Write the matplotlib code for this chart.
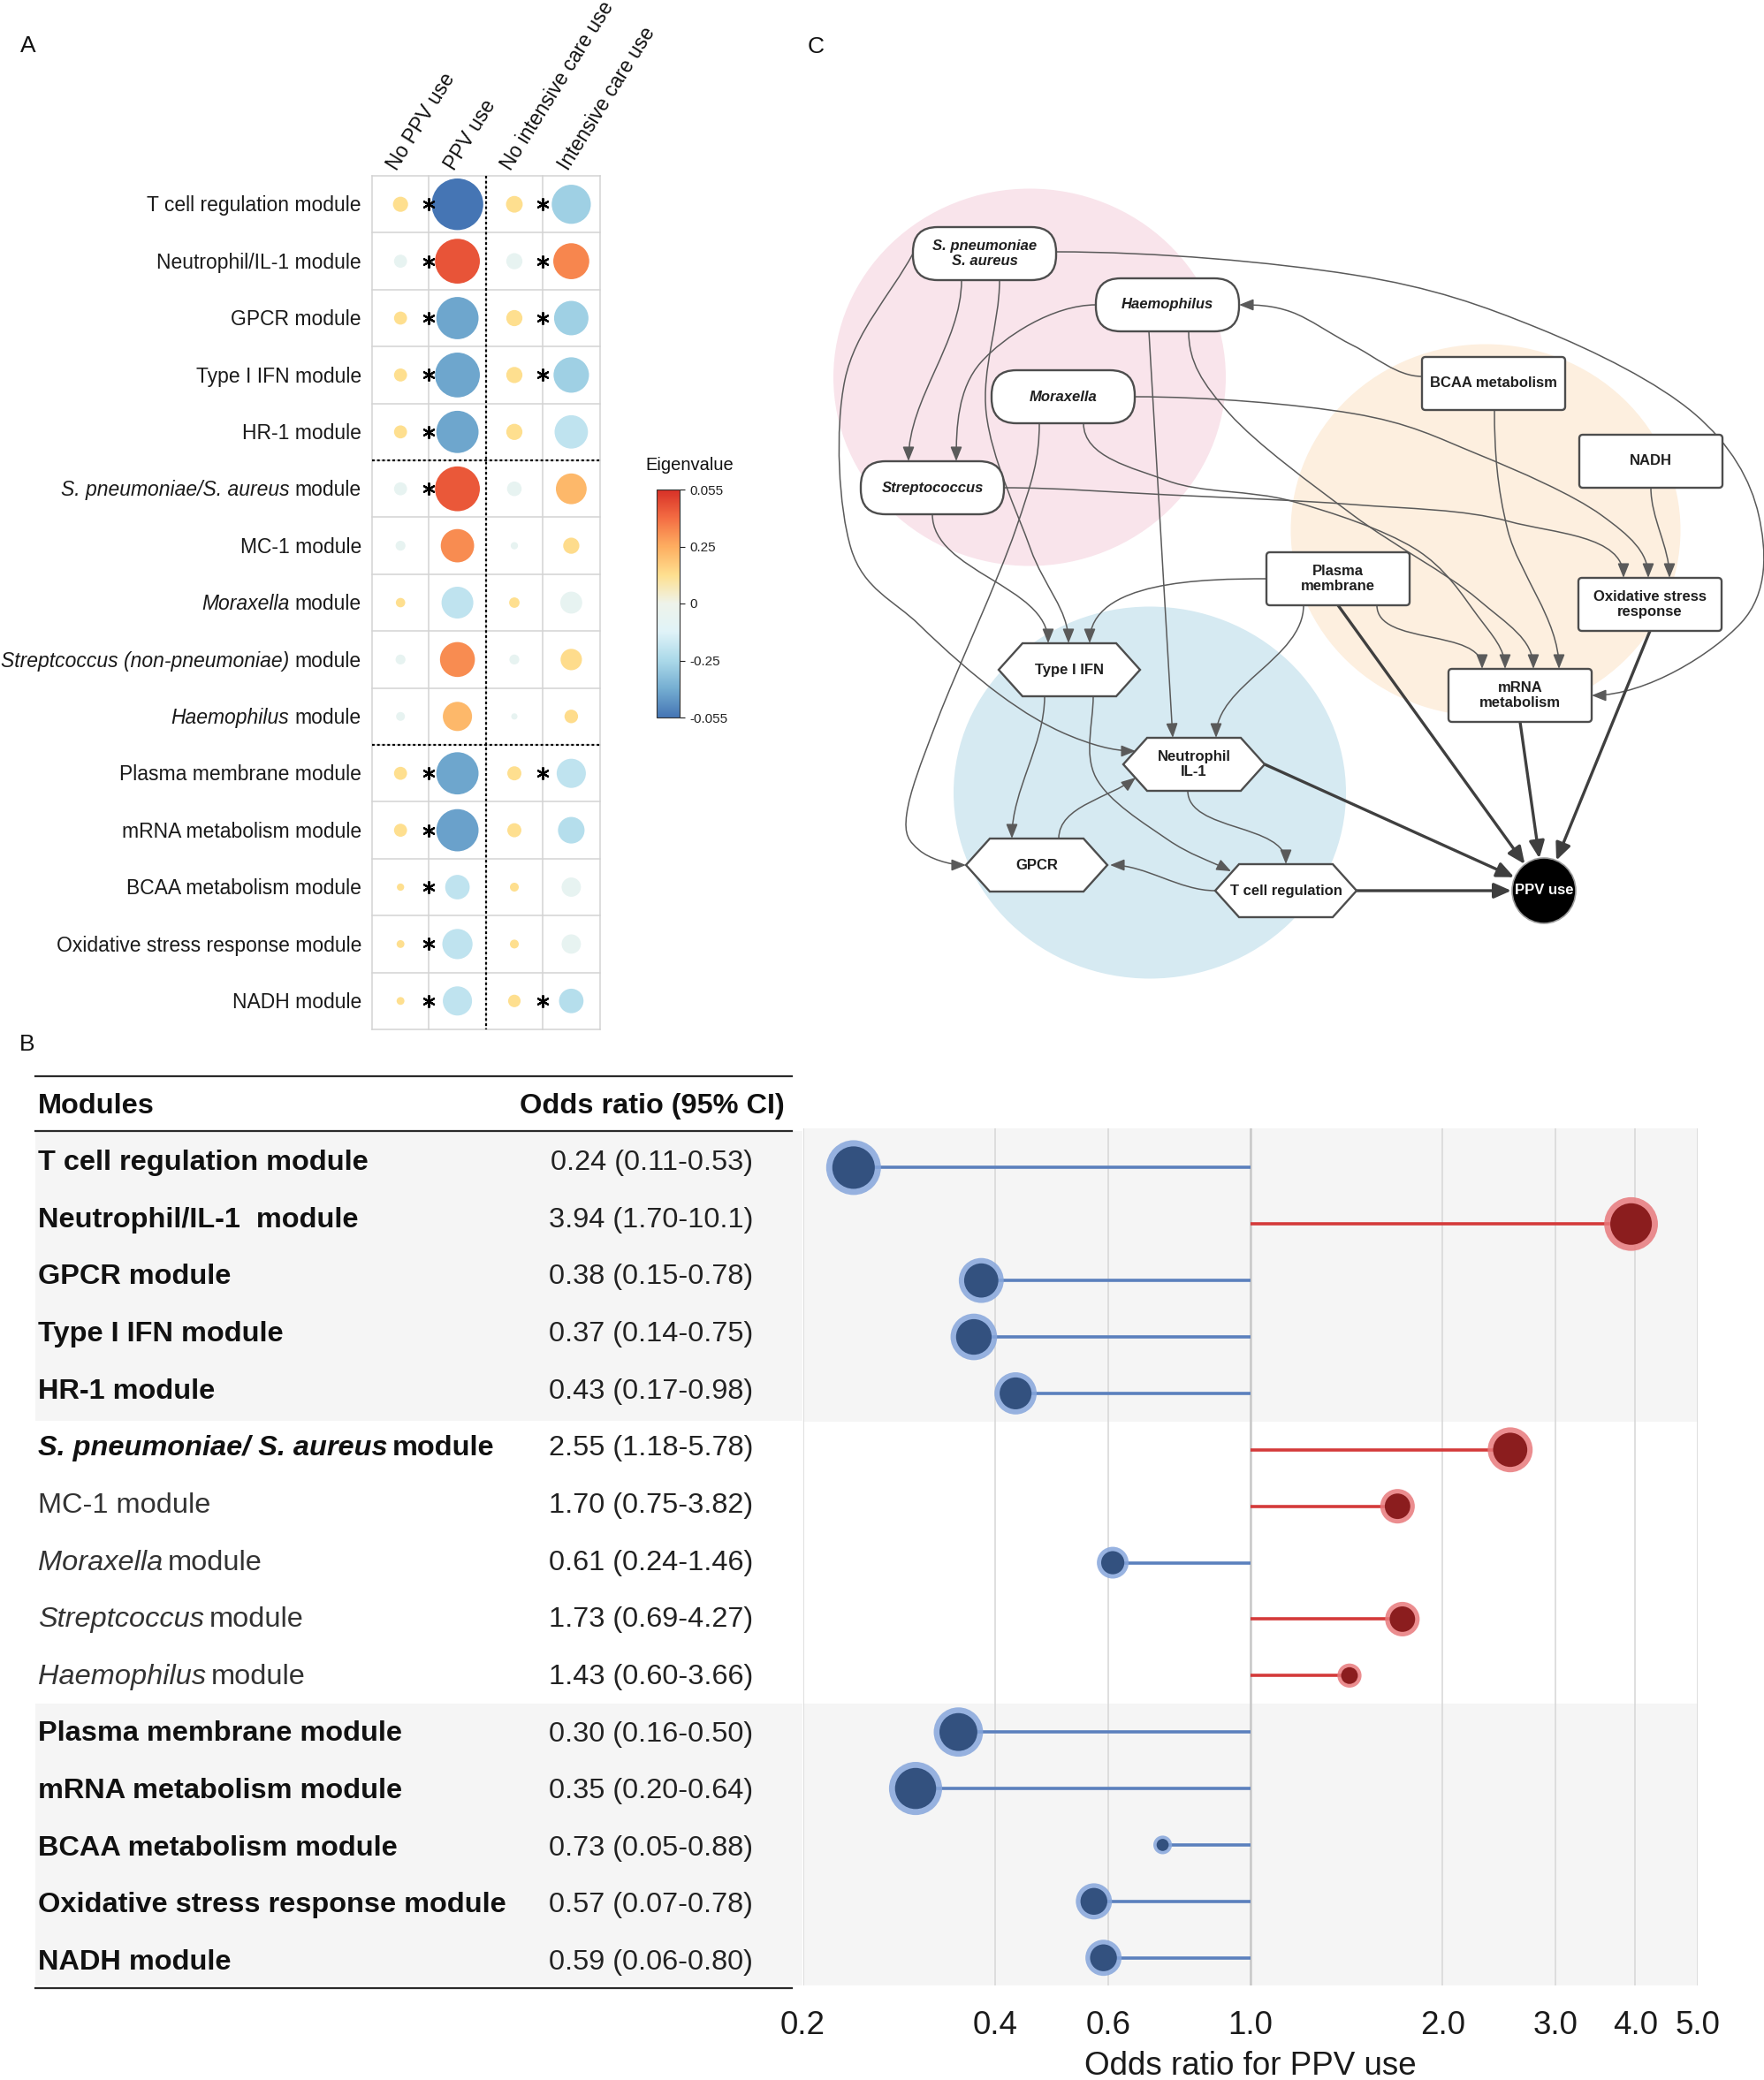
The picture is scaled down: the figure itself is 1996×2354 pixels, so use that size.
import numpy as np
import matplotlib
matplotlib.use("Agg")
import matplotlib.pyplot as plt
from matplotlib.colors import LinearSegmentedColormap
from matplotlib.patches import Ellipse, FancyBboxPatch, Polygon, FancyArrowPatch, Rectangle
from matplotlib.path import Path

plt.rcParams['font.family'] = ['Liberation Sans', 'DejaVu Sans']

W, H = 1996, 2354

# ---------------- panel A : module eigenvalues per group ----------------
groups = ['No PPV use', 'PPV use', 'No intensive care use', 'Intensive care use']
a_modules = [
    ('', 'T cell regulation module'),
    ('', 'Neutrophil/IL-1 module'),
    ('', 'GPCR module'),
    ('', 'Type I IFN module'),
    ('', 'HR-1 module'),
    ('S. pneumoniae/S. aureus', 'module'),
    ('', 'MC-1 module'),
    ('Moraxella', 'module'),
    ('Streptcoccus (non-pneumoniae)', 'module'),
    ('Haemophilus', 'module'),
    ('', 'Plasma membrane module'),
    ('', 'mRNA metabolism module'),
    ('', 'BCAA metabolism module'),
    ('', 'Oxidative stress response module'),
    ('', 'NADH module'),
]
# colour of each circle, on the -1..1 colour bar
eig_value = [
    [0.25, -1.00, 0.25, -0.55],
    [-0.12, 0.85, -0.12, 0.65],
    [0.25, -0.78, 0.25, -0.55],
    [0.25, -0.78, 0.25, -0.55],
    [0.25, -0.78, 0.25, -0.40],
    [-0.12, 0.83, -0.12, 0.45],
    [-0.12, 0.63, -0.12, 0.27],
    [0.25, -0.40, 0.25, -0.12],
    [-0.12, 0.63, -0.12, 0.27],
    [-0.12, 0.45, -0.12, 0.27],
    [0.25, -0.78, 0.25, -0.40],
    [0.25, -0.80, 0.25, -0.45],
    [0.25, -0.40, 0.25, -0.12],
    [0.25, -0.40, 0.25, -0.12],
    [0.25, -0.40, 0.25, -0.45],
]
# magnitude shown by the circle area (1 = largest)
eig_magnitude = [
    [.29, .99, .32, .75],
    [.25, .86, .31, .69],
    [.25, .81, .31, .66],
    [.25, .86, .31, .68],
    [.25, .81, .31, .64],
    [.25, .86, .28, .59],
    [.19, .64, .14, .31],
    [.18, .61, .20, .42],
    [.19, .67, .19, .41],
    [.17, .56, .12, .26],
    [.25, .81, .27, .56],
    [.25, .81, .27, .51],
    [.14, .47, .17, .37],
    [.15, .58, .17, .37],
    [.15, .56, .24, .47],
]
sig_ppv = [1, 1, 1, 1, 1, 1, 0, 0, 0, 0, 1, 1, 1, 1, 1]
sig_icu = [1, 1, 1, 1, 0, 0, 0, 0, 0, 0, 1, 0, 0, 0, 1]
cbar_ticks = [-1, -0.5, 0, 0.5, 1]
cbar_labels = ['-0.055', '-0.25', '0', '0.25', '0.055']

# ---------------- panel B : odds ratios ----------------
b_modules = [
    ('', 'T cell regulation module'),
    ('', 'Neutrophil/IL-1  module'),
    ('', 'GPCR module'),
    ('', 'Type I IFN module'),
    ('', 'HR-1 module'),
    ('S. pneumoniae/ S. aureus', 'module'),
    ('', 'MC-1 module'),
    ('Moraxella', 'module'),
    ('Streptcoccus', 'module'),
    ('Haemophilus', 'module'),
    ('', 'Plasma membrane module'),
    ('', 'mRNA metabolism module'),
    ('', 'BCAA metabolism module'),
    ('', 'Oxidative stress response module'),
    ('', 'NADH module'),
]
b_bold = [1, 1, 1, 1, 1, 1, 0, 0, 0, 0, 1, 1, 1, 1, 1]
or_text = ['0.24 (0.11-0.53)', '3.94 (1.70-10.1)', '0.38 (0.15-0.78)', '0.37 (0.14-0.75)',
           '0.43 (0.17-0.98)', '2.55 (1.18-5.78)', '1.70 (0.75-3.82)', '0.61 (0.24-1.46)',
           '1.73 (0.69-4.27)', '1.43 (0.60-3.66)', '0.30 (0.16-0.50)', '0.35 (0.20-0.64)',
           '0.73 (0.05-0.88)', '0.57 (0.07-0.78)', '0.59 (0.06-0.80)']
# odds ratio as drawn in the lollipop plot
or_point = [0.24, 3.94, 0.38, 0.37, 0.43, 2.55, 1.70, 0.61, 1.73, 1.43, 0.35, 0.30, 0.73, 0.57, 0.59]
dot_weight = [1.0, 0.98, 0.82, 0.85, 0.77, 0.82, 0.63, 0.58, 0.63, 0.44, 0.90, 0.97, 0.34, 0.66, 0.66]
or_ticks = [0.2, 0.4, 0.6, 1.0, 2.0, 3.0, 4.0, 5.0]

# ---------------- panel C : network ----------------
nodes = {
    'spn':    ('stadium', 1114, 287, 'S. pneumoniae\nS. aureus', True),
    'haem':   ('stadium', 1321, 345, 'Haemophilus', True),
    'morax':  ('stadium', 1203, 449, 'Moraxella', True),
    'strep':  ('stadium', 1055, 552, 'Streptococcus', True),
    'bcaa':   ('rect', 1690, 434, 'BCAA metabolism', False),
    'nadh':   ('rect', 1868, 522, 'NADH', False),
    'plasma': ('rect', 1514, 655, 'Plasma\nmembrane', False),
    'oxid':   ('rect', 1867, 684, 'Oxidative stress\nresponse', False),
    'mrna':   ('rect', 1720, 787, 'mRNA\nmetabolism', False),
    'ifn':    ('hex', 1210, 758, 'Type I IFN', False),
    'neut':   ('hex', 1351, 865, 'Neutrophil\nIL-1', False),
    'gpcr':   ('hex', 1173, 979, 'GPCR', False),
    'tcell':  ('hex', 1455, 1008, 'T cell regulation', False),
    'ppv':    ('circle', 1747, 1008, 'PPV use', False),
}
# (source, offset, start dir, via points, target, offset, end dir, thick)
edges = [
    ('spn', (-26, 30), 'd', [], 'strep', (-27, -30), 'd', False),
    ('spn', (17, 30), 'd', [(1116, 468), (1166, 621)], 'ifn', (-1, -30), 'd', False),
    ('spn', (-81, 0), None, [(956, 430), (963, 621), (1040, 707), (1131, 786), (1209, 832)],
     'neut', (-66, -15), 'r', False),
    ('spn', (81, -2), 'r', [(1531, 311), (1742, 372), (1917, 468), (1990, 583), (1970, 705)],
     'mrna', (81, 0), 'l', False),
    ('haem', (-81, 0), 'l', [(1110, 410)], 'strep', (27, -30), 'd', False),
    ('haem', (-21, 30), None, [], 'neut', (-24, -30), None, False),
    ('haem', (24, 30), 'd', [(1391, 468), (1531, 583), (1672, 678)], 'mrna', (15, -30), 'd', False),
    ('bcaa', (-81, -8), 'l', [(1531, 391), (1461, 353)], 'haem', (81, 0), 'l', False),
    ('bcaa', (1, 30), 'd', [(1706, 600)], 'mrna', (44, -30), 'd', False),
    ('morax', (81, 0), 'r', [(1531, 468), (1672, 514), (1812, 583)], 'oxid', (-2, -30), 'd', False),
    ('morax', (23, 30), 'd', [(1321, 544), (1461, 567), (1601, 621), (1672, 697)],
     'mrna', (-17, -30), 'd', False),
    ('morax', (-27, 30), 'd', [(1149, 600), (1061, 814), (1026, 921), (1040, 962)],
     'gpcr', (-80, 0), 'r', False),
    ('strep', (81, 0), 'r', [(1321, 560), (1531, 571), (1707, 590)], 'oxid', (-30, -30), 'd', False),
    ('strep', (0, 30), 'd', [], 'ifn', (-24, -30), 'd', False),
    ('nadh', (0, 30), 'd', [], 'oxid', (22, -30), 'd', False),
    ('plasma', (-81, 0), 'l', [], 'ifn', (23, -30), 'd', False),
    ('plasma', (-39, 30), 'd', [], 'neut', (25, -30), 'd', False),
    ('plasma', (44, 30), 'd', [], 'mrna', (-43, -30), 'd', False),
    ('ifn', (-28, 30), 'd', [], 'gpcr', (-28, -30), 'd', False),
    ('ifn', (27, 30), 'd', [(1240, 880), (1321, 950)], 'tcell', (-62, -22), None, False),
    ('gpcr', (25, -30), 'u', [], 'neut', (-66, 15), None, False),
    ('neut', (-7, 30), 'd', [], 'tcell', (0, -30), 'd', False),
    ('tcell', (-80, 0), 'l', [], 'gpcr', (83, 0), 'l', False),
    ('plasma', (0, 30), None, [], 'ppv', None, None, True),
    ('oxid', (0, 30), None, [], 'ppv', None, None, True),
    ('mrna', (0, 30), None, [], 'ppv', None, None, True),
    ('neut', (80, 0), None, [], 'ppv', None, None, True),
    ('tcell', (80, 0), None, [], 'ppv', None, None, True),
]
clusters = [((1165, 427), 444, 427, '#f9e4eb'),
            ((1681, 600), 441, 421, '#fdefdf'),
            ((1301, 897), 444, 421, '#d6eaf2')]

# ------------------------------------------------------------------
fig = plt.figure(figsize=(W / 100, H / 100), dpi=100)
ov = fig.add_axes([0, 0, 1, 1])
ov.set_xlim(0, W)
ov.set_ylim(H, 0)
ov.axis('off')
renderer = fig.canvas.get_renderer()


def axes_px(x0, y0, x1, y1):
    return fig.add_axes([x0 / W, 1 - y1 / H, (x1 - x0) / W, (y1 - y0) / H])


def pt2px(p):
    return p * 100 / 72


def put_label(x, y, italic, plain, ha, size, weight='normal', color='#1a1a1a'):
    kw = dict(fontsize=size, fontweight=weight, color=color, va='baseline', zorder=5)
    gap = pt2px(size) * 0.278
    if not italic:
        ov.text(x, y, plain, ha=ha, **kw)
        return
    if ha == 'right':
        t = ov.text(x, y, plain, ha='right', **kw)
        w = t.get_window_extent(renderer=renderer).width
        ov.text(x - w - gap, y, italic, ha='right', style='italic', **kw)
    else:
        t = ov.text(x, y, italic, ha='left', style='italic', **kw)
        w = t.get_window_extent(renderer=renderer).width
        ov.text(x + w + gap * 0.6, y, plain, ha='left', **kw)


# ---------------- panel A ----------------
eig_cmap = LinearSegmentedColormap.from_list(
    'eig', ['#4575b4', '#74add1', '#abd9e9', '#e0f3f8', '#eef3ea',
            '#fee090', '#fdae61', '#f46d43', '#d73027'])
nr, nc = len(a_modules), len(groups)
cell = 64.4
ax_a = axes_px(421, 199, 421 + nc * cell, 199 + nr * cell)
ax_a.set_xlim(0, nc)
ax_a.set_ylim(nr, 0)
ax_a.axis('off')
for k in range(nc + 1):
    ax_a.plot([k, k], [0, nr], color='#d3d3d3', lw=1.1, zorder=1, clip_on=False)
for k in range(nr + 1):
    ax_a.plot([0, nc], [k, k], color='#d3d3d3', lw=1.1, zorder=1, clip_on=False)
ax_a.plot([2, 2], [0, nr], color='black', lw=1.6, ls=(0, (1.3, 1.3)), zorder=4, clip_on=False)
for k in (5, 10):
    ax_a.plot([0, nc], [k, k], color='black', lw=1.6, ls=(0, (1.3, 1.3)), zorder=4, clip_on=False)

vals = np.array(eig_value)
mags = np.array(eig_magnitude)
yy, xx = np.mgrid[0:nr, 0:nc]
sc = ax_a.scatter(xx.ravel() + 0.5, yy.ravel() + 0.5, s=(mags.ravel() * 59 * 0.72) ** 2,
                  c=vals.ravel(), cmap=eig_cmap, vmin=-1, vmax=1, edgecolors='none',
                  zorder=3, clip_on=False)
rows = np.arange(nr)
ppv_rows = rows[np.array(sig_ppv) == 1]
icu_rows = rows[np.array(sig_icu) == 1]
ax_a.scatter(np.full(len(ppv_rows), 1.0), ppv_rows + 0.5, marker=(6, 2, 0), s=85,
             c='black', linewidths=1.6, zorder=6, clip_on=False)
ax_a.scatter(np.full(len(icu_rows), 3.0), icu_rows + 0.5, marker=(6, 2, 0), s=85,
             c='black', linewidths=1.6, zorder=6, clip_on=False)
for j, g in enumerate(groups):
    ax_a.text(j + 0.5 - 0.06, -0.08, g, rotation=58, rotation_mode='anchor',
              ha='left', va='baseline', fontsize=16.5, color='#111', clip_on=False)
for i, (it, pl) in enumerate(a_modules):
    put_label(409, 199 + (i + 0.5) * cell + 8.2, it, pl, 'right', 16.5)

cax = axes_px(743, 554, 769, 812)
cb = fig.colorbar(sc, cax=cax, ticks=cbar_ticks)
cb.ax.set_yticklabels(cbar_labels)
cb.ax.tick_params(labelsize=11, length=4, width=0.8, pad=4, colors='#222')
cb.outline.set_linewidth(0.8)
cb.outline.set_edgecolor('#333')
ov.text(730, 532, 'Eigenvalue', fontsize=14.5, ha='left', va='baseline', color='#111')

# ---------------- panel B : table ----------------
fs_tab = 23.4
ov.add_patch(Rectangle((40, 1280), 868, 328, color='#f5f5f5', zorder=0, lw=0))
ov.add_patch(Rectangle((40, 1928), 868, 319, color='#f5f5f5', zorder=0, lw=0))
for yr in (1218, 1280, 2250):
    ov.plot([40, 896], [yr, yr], color='#2a2a2a', lw=1.6, zorder=2)
ov.text(43, 1260, 'Modules', fontsize=fs_tab, fontweight='bold', ha='left', va='baseline', color='#111')
ov.text(888, 1260, 'Odds ratio (95% CI)', fontsize=fs_tab, fontweight='bold', ha='right',
        va='baseline', color='#111')
for i, (it, pl) in enumerate(b_modules):
    yb = 1324 + 64.65 * i
    if b_bold[i]:
        put_label(43, yb, it, pl, 'left', fs_tab, weight='bold', color='#111')
    else:
        put_label(43, yb, it, pl, 'left', fs_tab, color='#333')
    ov.text(852, yb, or_text[i], fontsize=fs_tab, ha='right', va='baseline', color='#222')

# ---------------- panel B : lollipops ----------------
ax_b = axes_px(908.5, 1277, 1920.5, 2247)
ax_b.set_xscale('log')
ax_b.set_xlim(0.2, 5.0)
ax_b.set_ylim(14.49, -0.695)
ax_b.axhspan(-0.695, 4.5, color='#f5f5f5', zorder=0, lw=0)
ax_b.axhspan(9.5, 14.49, color='#f5f5f5', zorder=0, lw=0)
ax_b.set_xticks(or_ticks)
ax_b.set_xticklabels(['%.1f' % t for t in or_ticks])
ax_b.minorticks_off()
ax_b.set_yticks([])
for s in ax_b.spines.values():
    s.set_visible(False)
ax_b.tick_params(axis='x', length=0, pad=20, labelsize=26.5, labelcolor='#1a1a1a')
ax_b.grid(axis='x', color='#d6d6d6', lw=1.1, zorder=0.5)
ax_b.set_axisbelow(True)
ax_b.axvline(1.0, color='#c9c9c9', lw=1.8, zorder=0.6)
ax_b.set_xlabel('Odds ratio for PPV use', fontsize=26.5, labelpad=8, color='#1a1a1a')

orp = np.array(or_point)
ypos = np.arange(len(orp))
neg = orp < 1
line_col = np.where(neg, '#5b80bd', '#d43a3a')
ax_b.hlines(ypos, np.minimum(orp, 1.0), np.maximum(orp, 1.0), colors=line_col, lw=2.6, zorder=2)
d_out = 62 * np.array(dot_weight)
d_in = d_out - 2 * (0.08 * d_out + 2)
ax_b.scatter(orp, ypos, s=(d_out * 0.72) ** 2, c=np.where(neg, '#86a6dc', '#e8797c'),
             alpha=0.85, edgecolors='none', zorder=3)
ax_b.scatter(orp, ypos, s=(d_in * 0.72) ** 2, c=np.where(neg, '#33517f', '#8b1d1e'),
             edgecolors='none', zorder=4)

# ---------------- panel C ----------------
NW, NH, INSET, R_PPV = 162, 60, 27, 36
for (cx, cy), w, h, col in clusters:
    ov.add_patch(Ellipse((cx, cy), w, h, color=col, lw=0, zorder=1))

DIRS = {'d': (0, 1), 'u': (0, -1), 'l': (-1, 0), 'r': (1, 0)}


def anchor(name, off):
    n = nodes[name]
    return np.array([n[1] + off[0], n[2] + off[1]], float)


def smooth_path(pts, t0, t1):
    pts = np.asarray(pts, float)
    n = len(pts)
    tang = np.zeros_like(pts)
    for i in range(1, n - 1):
        tang[i] = (pts[i + 1] - pts[i - 1]) / 2
    l0 = np.linalg.norm(pts[1] - pts[0])
    l1 = np.linalg.norm(pts[-1] - pts[-2])
    tang[0] = np.array(t0) * l0 if t0 is not None else pts[1] - pts[0]
    tang[-1] = np.array(t1) * l1 if t1 is not None else pts[-1] - pts[-2]
    verts = [pts[0]]
    codes = [Path.MOVETO]
    for i in range(n - 1):
        verts += [pts[i] + tang[i] / 3, pts[i + 1] - tang[i + 1] / 3, pts[i + 1]]
        codes += [Path.CURVE4] * 3
    return Path(verts, codes)


for src, soff, d0, via, dst, doff, d1, thick in edges:
    p0 = anchor(src, soff)
    if dst == 'ppv':
        c = anchor('ppv', (0, 0))
        v = (c - p0) / np.linalg.norm(c - p0)
        p1 = c - (R_PPV + 1) * v
    else:
        p1 = anchor(dst, doff)
    pts = [p0] + [np.array(p, float) for p in via] + [p1]
    path = smooth_path(pts, DIRS.get(d0), DIRS.get(d1))
    if thick:
        arr = FancyArrowPatch(path=path, arrowstyle='-|>,head_length=0.45,head_width=0.2',
                              mutation_scale=26, color='#3f3f3f', lw=2.4, zorder=2)
    else:
        arr = FancyArrowPatch(path=path, arrowstyle='-|>,head_length=0.45,head_width=0.18',
                              mutation_scale=22, color='#5a5a5a', lw=1.1, zorder=2)
    ov.add_patch(arr)

for name, (shape, cx, cy, label, ital) in nodes.items():
    if shape == 'stadium':
        p = FancyBboxPatch((cx - NW / 2, cy - NH / 2), NW, NH,
                           boxstyle='round,pad=0,rounding_size=%d' % (NH // 2 - 2))
    elif shape == 'rect':
        p = FancyBboxPatch((cx - NW / 2, cy - NH / 2), NW, NH, boxstyle='round,pad=0,rounding_size=4')
    elif shape == 'hex':
        w = NW - 2
        p = Polygon([(cx - w / 2, cy), (cx - w / 2 + INSET, cy - NH / 2), (cx + w / 2 - INSET, cy - NH / 2),
                     (cx + w / 2, cy), (cx + w / 2 - INSET, cy + NH / 2), (cx - w / 2 + INSET, cy + NH / 2)],
                    closed=True)
    else:
        p = Ellipse((cx, cy), 2 * R_PPV, 2 * R_PPV + 2)
    if shape == 'circle':
        p.set_facecolor('black')
        p.set_edgecolor('#9a9a9a')
        p.set_linewidth(1.2)
        tcol = 'white'
    else:
        p.set_facecolor('white')
        p.set_edgecolor('#4d4d4d')
        p.set_linewidth(1.7)
        tcol = '#1f1f1f'
    p.set_zorder(3)
    ov.add_patch(p)
    ov.text(cx, cy, label, ha='center', va='center', fontsize=12, fontweight='bold',
            style='italic' if ital else 'normal', color=tcol, linespacing=1.15, zorder=4)

# ---------------- panel letters ----------------
for letter, x, y in (('A', 23, 59), ('B', 22, 1189), ('C', 914, 60)):
    ov.text(x, y, letter, fontsize=19, ha='left', va='baseline', color='#111')

fig.savefig('out.png', dpi=100)
